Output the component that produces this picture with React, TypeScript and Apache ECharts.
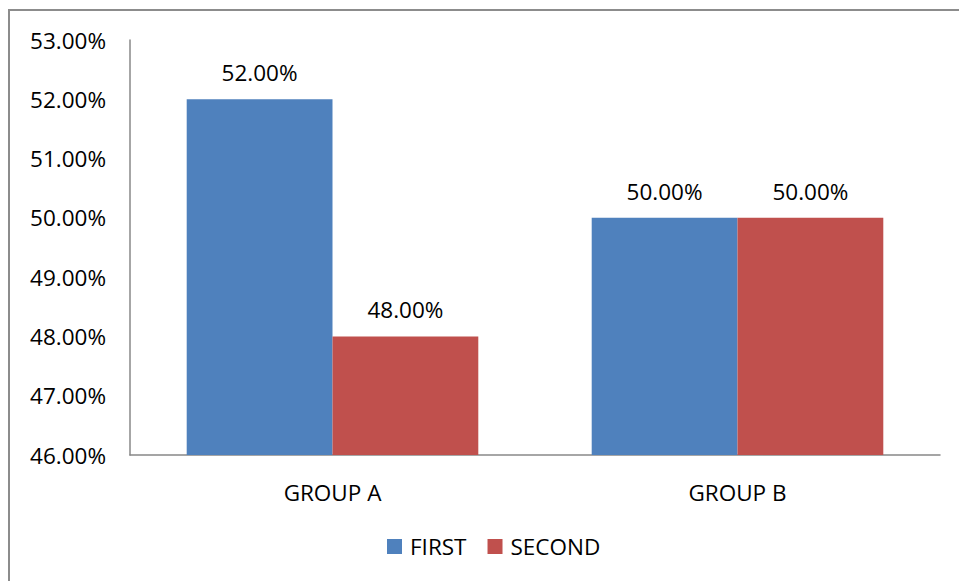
import React, { useEffect, useRef } from "react";
import * as echarts from "echarts";

const categories = ["GROUP A", "GROUP B"];
const firstValues = [52.0, 50.0];
const secondValues = [48.0, 50.0];
const seriesNames = ["FIRST", "SECOND"];
const yMin = 46;
const yMax = 53;
const yInterval = 1;

const FONT = "'Open Sans', sans-serif";
const FS = 22.5;

export default function App() {
  const ref = useRef<HTMLDivElement>(null);
  useEffect(() => {
    if (!ref.current) return;
    const chart = echarts.init(ref.current, null, { renderer: "svg" });
    const fmt = (v: number) => v.toFixed(2) + "%";
    const labelCfg = {
      show: true,
      position: "top",
      distance: 15,
      color: "#000",
      fontFamily: FONT,
      fontSize: FS,
      formatter: (p: any) => fmt(p.value),
    };
    chart.setOption({
      animation: false,
      backgroundColor: "#fff",
      graphic: [
        {
          type: "rect",
          shape: { x: 9, y: 10, width: 1000, height: 700 },
          style: { fill: "none", stroke: "#8c8c8c", lineWidth: 2 },
          silent: true,
        },
      ],
      grid: { left: 130, right: 19, top: 40, bottom: 126, containLabel: false },
      legend: {
        data: seriesNames,
        bottom: 18,
        left: 382,
        itemWidth: 15,
        itemHeight: 15,
        itemGap: 21,
        icon: "rect",
        textStyle: {
          fontFamily: FONT,
          fontSize: FS,
          color: "#000",
          padding: [0, 0, 0, 3],
        },
      },
      xAxis: {
        type: "category",
        data: categories,
        axisLine: { lineStyle: { color: "#888", width: 1.5 } },
        axisTick: { show: false },
        axisLabel: { fontFamily: FONT, fontSize: FS, color: "#000", margin: 26 },
      },
      yAxis: {
        type: "value",
        min: yMin,
        max: yMax,
        interval: yInterval,
        axisLine: { show: true, lineStyle: { color: "#888", width: 1.5 } },
        axisTick: { show: false },
        splitLine: { show: false },
        axisLabel: {
          fontFamily: FONT,
          fontSize: FS,
          color: "#000",
          margin: 24,
          formatter: (v: number) => fmt(v),
        },
      },
      series: [
        {
          name: seriesNames[0],
          type: "bar",
          data: firstValues,
          itemStyle: { color: "#4F81BD" },
          barGap: "0%",
          barCategoryGap: "28%",
          label: labelCfg,
        },
        {
          name: seriesNames[1],
          type: "bar",
          data: secondValues,
          itemStyle: { color: "#C0504D" },
          barGap: "0%",
          barCategoryGap: "28%",
          label: labelCfg,
        },
      ],
    });
    return () => chart.dispose();
  }, []);
  return (
    <div
      ref={ref}
      style={{ position: "fixed", left: 0, top: 0, width: 959, height: 581 }}
    />
  );
}
